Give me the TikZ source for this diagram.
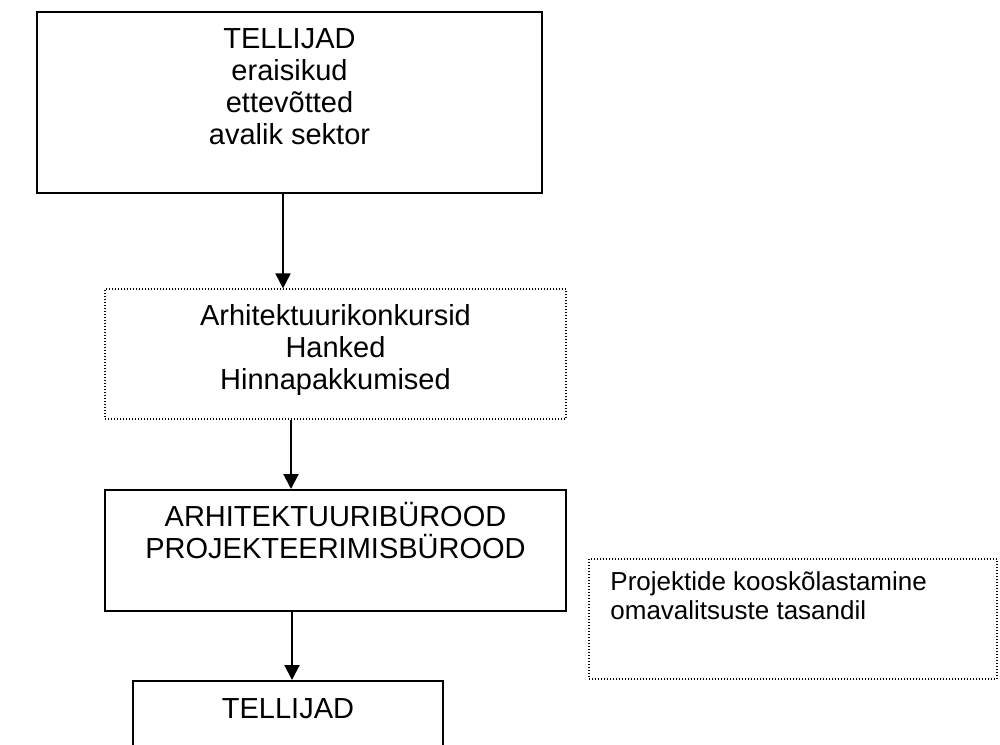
\documentclass[tikz,border=0pt]{standalone}
\usepackage{fontspec}
\setmainfont{Liberation Sans}
\usetikzlibrary{arrows.meta}
\begin{document}
\begin{tikzpicture}[x=0.5pt,y=-0.5pt,
  solidbox/.style={draw=black,line width=1pt,rectangle,inner sep=0pt},
  dotbox/.style={draw=black,line width=0.6pt,dash pattern=on 0.5pt off 1pt,rectangle,inner sep=0pt},
  maintext/.style={anchor=base,font=\fontsize{14.5pt}{16pt}\selectfont,inner sep=0pt},
  smalltext/.style={anchor=base west,font=\fontsize{13pt}{15pt}\selectfont,inner sep=0pt},
  arr/.style={line width=1pt,-{Triangle[length=7.5pt,width=7.5pt]}}]
\useasboundingbox (0,0) rectangle (1000,744);
\clip (0,0) rectangle (1000,744);
\node[solidbox,minimum width=252.5pt,minimum height=90.5pt] (b1) at (289.5,102.5) {};
\node[dotbox,minimum width=230.5pt,minimum height=65pt] (b2) at (335.5,354) {};
\node[solidbox,minimum width=230.5pt,minimum height=60.5pt] (b3) at (335.5,550.5) {};
\node[solidbox,minimum width=155pt,minimum height=44.5pt] (b4) at (288,725.5) {};
\node[dotbox,minimum width=204pt,minimum height=60pt] (b5) at (793,619) {};
\node[maintext] (t1a) at (289.5,48) {TELLIJAD};
\node[maintext] (t1b) at (289.5,80) {eraisikud};
\node[maintext] (t1c) at (289.5,112) {ettevõtted};
\node[maintext] (t1d) at (289.5,144) {avalik sektor};
\node[maintext] (t2a) at (335.5,325) {Arhitektuurikonkursid};
\node[maintext] (t2b) at (335.5,357) {Hanked};
\node[maintext] (t2c) at (335.5,389) {Hinnapakkumised};
\node[maintext] (t3a) at (335.5,526) {ARHITEKTUURIBÜROOD};
\node[maintext] (t3b) at (335.5,558) {PROJEKTEERIMISBÜROOD};
\node[maintext] (t4) at (288,718) {TELLIJAD};
\node[smalltext] (t5a) at (610,590) {Projektide kooskõlastamine};
\node[smalltext] (t5b) at (610,619) {omavalitsuste tasandil};
\coordinate (a1) at (283,0);
\coordinate (a2) at (291,0);
\coordinate (a3) at (292,0);
\draw[arr] (b1.south -| a1) -- (b2.north -| a1);
\draw[arr] (b2.south -| a2) -- (b3.north -| a2);
\draw[arr] (b3.south -| a3) -- (b4.north -| a3);
\end{tikzpicture}
\end{document}
